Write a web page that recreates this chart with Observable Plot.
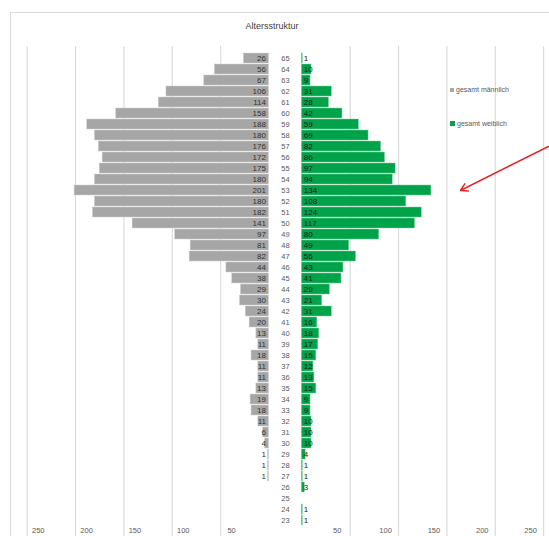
<!DOCTYPE html>
<html>
<head>
<meta charset="utf-8">
<script src="https://cdn.jsdelivr.net/npm/d3@7"></script>
<script src="https://cdn.jsdelivr.net/npm/@observablehq/plot@0.6"></script>
<style>
  body { margin: 0; background: #fff; font-family: "Liberation Sans", Arial, sans-serif; }
  #wrap { position: relative; width: 549px; height: 536px; overflow: hidden; }
  #border { position: absolute; left: 10px; top: 12px; right: -5px; bottom: -5px;
            border-left: 1px solid #d9d9d9; border-top: 1px solid #d9d9d9; }
  #chart { position: absolute; left: 0; top: 0; }
  #title { position: absolute; top: 21px; left: 272px; transform: translateX(-50%);
           font-size: 9px; color: #404040; white-space: nowrap; }
  .leg { position: absolute; font-size: 7px; color: #595959; white-space: nowrap; display: flex; align-items: center; }
  .sw { display: inline-block; margin-right: 2px; }
</style>
</head>
<body>
<div id="wrap">
  <div id="border"></div>
  <div id="chart"></div>
  <div id="title">Altersstruktur</div>
  <div class="leg" style="left:450px;top:86px;"><span class="sw" style="width:4px;height:4px;background:#a6a6a6"></span>gesamt männlich</div>
  <div class="leg" style="left:450px;top:120px;"><span class="sw" style="width:5px;height:5px;background:#00a24a"></span>gesamt weiblich</div>
</div>
<script>
// ---- data ----
const ages = [65,64,63,62,61,60,59,58,57,56,55,54,53,52,51,50,49,48,47,46,45,44,43,42,41,40,39,38,37,36,35,34,33,32,31,30,29,28,27,26,25,24,23];
const maleValues = [26,56,67,106,114,158,188,180,176,172,175,180,201,180,182,141,97,81,82,44,38,29,30,24,20,13,11,18,11,11,13,19,18,11,6,4,1,1,1,0,0,0,0];
const femaleValues = [1,10,9,31,28,42,59,69,82,86,97,94,134,108,124,117,80,49,56,43,41,29,21,31,16,18,17,15,12,13,15,9,9,10,10,10,4,1,1,3,0,1,1];
const tickValues = [50,100,150,200,250];
const seriesNames = ["gesamt männlich", "gesamt weiblich"];
// annotation arrow (value units / age rows)
const arrowData = [{fromValue: 255, fromAge: "57", toValue: 164, toAge: "53"}];

// ---- layout ----
const W = 549, H = 536;
const G = 17;           // half gap (in value units) for the age column
const k = 0.967;        // px per unit
const cx = 284.9;       // center px
const rows = ages.map((a, i) => ({age: String(a), m: maleValues[i], f: femaleValues[i]}));

const grey = "#a6a6a6", green = "#00a24a";

const plot = Plot.plot({
  width: W,
  height: H,
  marginLeft: 0,
  marginRight: 0,
  marginTop: 46,
  marginBottom: 0,
  style: {fontFamily: "'Liberation Sans', Arial, sans-serif", background: "transparent"},
  x: {domain: [(0 - cx) / k, (W - cx) / k], axis: null},
  y: {type: "band", domain: ages.map(String), range: [48.4, 529.6], paddingInner: 0.13, paddingOuter: 0.065, axis: null},
  marks: [
    Plot.ruleX(tickValues, {x: d => -G - d, stroke: "#dcdcdc", strokeWidth: 1.2}),
    Plot.ruleX(tickValues, {x: d => G + d, stroke: "#dcdcdc", strokeWidth: 1.2}),
    Plot.barX(rows, {y: "age", x1: () => -G, x2: d => -G - d.m, fill: grey, stroke: "#cfcfcf", strokeWidth: 0.5}),
    Plot.barX(rows, {y: "age", x1: () => G, x2: d => G + d.f, fill: green, stroke: "#7fd09f", strokeWidth: 0.5}),
    Plot.text(rows.filter(d => d.m > 0), {y: "age", x: () => -G, text: d => String(d.m), textAnchor: "end", dx: -3, fill: "#333", fontSize: 8}),
    Plot.text(rows.filter(d => d.f > 0), {y: "age", x: () => G, text: d => String(d.f), textAnchor: "start", dx: 2, fill: "#1a1a1a", fontSize: 8}),
    Plot.text(rows, {y: "age", x: () => 0, text: "age", textAnchor: "middle", fill: "#595959", fontSize: 7.5}),
    Plot.text(tickValues, {x: d => -G - d, text: d => String(d), frameAnchor: "bottom", dy: -4, dx: 11, fill: "#595959", fontSize: 7.5}),
    Plot.text(tickValues, {x: d => G + d, text: d => String(d), frameAnchor: "bottom", dy: -4, dx: -13, fill: "#595959", fontSize: 7.5}),
    Plot.arrow(arrowData, {x1: d => G + d.fromValue, y1: "fromAge", x2: d => G + d.toValue, y2: "toAge", stroke: "#e3262b", strokeWidth: 1.5, headLength: 8})
  ]
});
document.getElementById("chart").appendChild(plot);
</script>
</body>
</html>
